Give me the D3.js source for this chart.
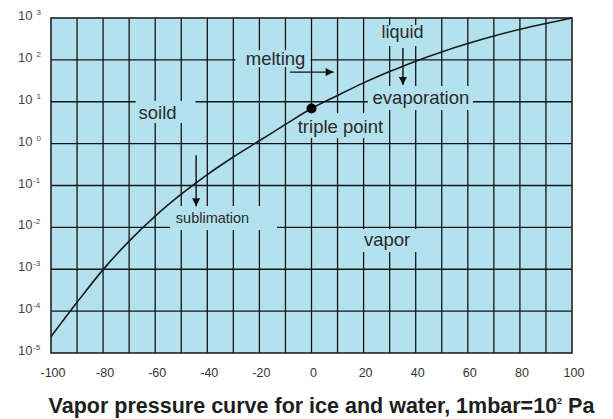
<!DOCTYPE html>
<html>
<head>
<meta charset="utf-8">
<script src="https://cdn.jsdelivr.net/npm/d3@7"></script>
<style>
  html, body { margin: 0; padding: 0; background: #fff; }
  svg { display: block; }
  text { font-family: "Liberation Sans", Arial, sans-serif; }
</style>
</head>
<body>
<svg id="chart" width="613" height="419"></svg>
<script>
// ---------------- data ----------------
// temperature (°C)
const temperatures = [-100, -90, -80, -70, -60, -50, -40, -30, -20, -10, 0, 10, 20, 30, 40, 50, 60, 70, 80, 90, 100];
// vapor pressure (mbar)
const pressures = [2.45e-5, 1.62e-4, 9.8e-4, 4.7e-3, 1.86e-2, 6.2e-2, 0.182, 0.479, 1.17, 2.88, 6.9, 14.1, 28.2, 52.5, 93.3, 155, 245, 372, 537, 741, 1000];
// axis ticks
const xTickLabels = [-100, -80, -60, -40, -20, 0, 20, 40, 60, 80, 100];
const yTickExponents = [3, 2, 1, 0, -1, -2, -3, -4, -5];
// triple point
const triplePoint = { t: 0, p: 6.9 };
// region / process labels (position in data units)
const labelTexts = ["soild", "melting", "liquid", "evaporation", "triple point", "sublimation", "vapor"];
const labelT = [-59.1, -13.8, 34.9, 42.0, 11.1, -38.0, 29.0];
const labelP = [5.4, 110, 462, 12.3, 2.63, 0.0167, 0.00525];
// arrows (data units): from -> to
const arrows = [
  { t0: -44.3, p0: 0.53, t1: -44.3, p1: 0.032 },   // sublimation
  { t0: -8.3, p0: 51, t1: 8.5, p1: 51 },           // melting
  { t0: 35.1, p0: 191, t1: 35.1, p1: 25 }          // evaporation
];
const titleText = "Vapor pressure curve for ice and water, 1mbar=10";
const titleSup = "2";
const titleTail = " Pa";

// ---------------- layout ----------------
const svg = d3.select("#chart");
const L = 51, R = 572, T = 18, B = 353;
const x = d3.scaleLinear().domain([-100, 100]).range([L, R]);
const y = d3.scaleLog().domain([1e-5, 1e3]).range([B, T]);

const bg = "#b3e2ee";
const ink = "#141414";

// label style: font size and background box offsets [left, top, right, bottom] from label center
const labelStyle = [
  { fs: 18.5, box: [-22, -12, 38, 10] },
  { fs: 18.5, box: [-40, -8, 35, 9] },
  { fs: 18, box: [-22.5, -7, 22.5, 14] },
  { fs: 18.5, box: [-53, -12, 52, 12] },
  { fs: 18.5, box: [-45.5, -13, 45.5, 12] },
  { fs: 14.5, box: [-42.5, -12, 64.5, 12] },
  { fs: 18.5, box: [-32, -10, 33, 13] }
];

// background
svg.append("rect").attr("x", L).attr("y", T).attr("width", R - L).attr("height", B - T).attr("fill", bg);

// grid
const g = svg.append("g");
g.selectAll("line.v").data(d3.range(-90, 100, 10)).join("line")
  .attr("x1", d => x(d)).attr("x2", d => x(d)).attr("y1", T).attr("y2", B)
  .attr("stroke", ink).attr("stroke-width", 1.3);
g.selectAll("line.h").data(yTickExponents.slice(1, -1)).join("line")
  .attr("x1", L).attr("x2", R).attr("y1", d => y(Math.pow(10, d))).attr("y2", d => y(Math.pow(10, d)))
  .attr("stroke", ink).attr("stroke-width", 1.3);

// label background boxes (cover the grid)
const labels = labelTexts.map((s, i) => ({ s, t: labelT[i], p: labelP[i], ...labelStyle[i] }));
svg.append("g").selectAll("rect").data(labels).join("rect")
  .attr("x", d => x(d.t) + d.box[0]).attr("y", d => y(d.p) + d.box[1])
  .attr("width", d => d.box[2] - d.box[0]).attr("height", d => d.box[3] - d.box[1])
  .attr("fill", bg);

// border
svg.append("rect").attr("x", L).attr("y", T).attr("width", R - L).attr("height", B - T)
  .attr("fill", "none").attr("stroke", "#222").attr("stroke-width", 1.6);

// curve
const line = d3.line().x(d => x(d[0])).y(d => y(d[1])).curve(d3.curveMonotoneX);
svg.append("path").datum(temperatures.map((t, i) => [t, pressures[i]]))
  .attr("d", line).attr("fill", "none").attr("stroke", "#1a1a1a").attr("stroke-width", 1.6);

// triple point
svg.append("circle").attr("cx", x(triplePoint.t)).attr("cy", y(triplePoint.p)).attr("r", 5).attr("fill", "#000");

// arrows
const defs = svg.append("defs");
defs.append("marker").attr("id", "ah").attr("viewBox", "0 0 10 10").attr("refX", 10).attr("refY", 5)
  .attr("markerWidth", 11).attr("markerHeight", 8).attr("markerUnits", "userSpaceOnUse").attr("orient", "auto")
  .append("path").attr("d", "M0,0 L10,5 L0,10 Z").attr("fill", "#111");
svg.append("g").selectAll("line").data(arrows).join("line")
  .attr("x1", d => x(d.t0)).attr("y1", d => y(d.p0)).attr("x2", d => x(d.t1)).attr("y2", d => y(d.p1))
  .attr("stroke", "#111").attr("stroke-width", 1.4).attr("marker-end", "url(#ah)");

// labels
svg.append("g").selectAll("text").data(labels).join("text")
  .attr("x", d => x(d.t)).attr("y", d => y(d.p)).attr("dy", "0.35em")
  .attr("text-anchor", "middle").attr("font-size", d => d.fs).attr("fill", "#2a2a2a")
  .text(d => d.s);

// x tick labels
svg.append("g").selectAll("text").data(xTickLabels).join("text")
  .attr("x", d => x(d) + 2).attr("y", 377).attr("text-anchor", "middle")
  .attr("font-size", 12.5).attr("fill", "#333").text(d => d);

// y tick labels
const yl = svg.append("g").selectAll("text").data(yTickExponents).join("text")
  .attr("x", 18).attr("y", d => y(Math.pow(10, d)) + 2)
  .attr("font-size", 13).attr("fill", "#444");
yl.append("tspan").text("10");
yl.append("tspan").attr("dx", d => d >= 0 ? 4 : 0.5).attr("dy", -5).attr("font-size", 8).text(d => d);

// title
const tt = svg.append("text").attr("x", 321.5).attr("y", 413).attr("text-anchor", "middle")
  .attr("font-size", 21.5).attr("font-weight", "bold").attr("fill", "#1e1e1e");
tt.append("tspan").text(titleText);
tt.append("tspan").attr("dy", -9).attr("font-size", 9).text(titleSup);
tt.append("tspan").attr("dy", 9).text(titleTail);
</script>
</body>
</html>
